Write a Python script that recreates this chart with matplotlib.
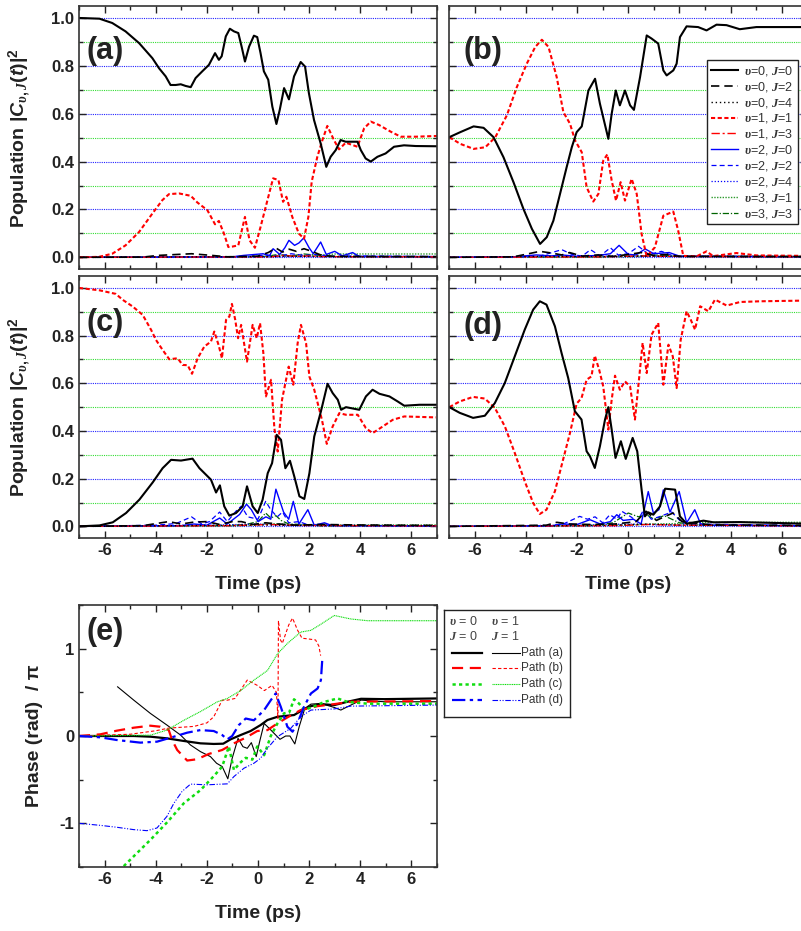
import matplotlib
matplotlib.use('Agg')
import numpy as np
import matplotlib.pyplot as plt
from matplotlib.lines import Line2D
from matplotlib.ticker import MultipleLocator, FormatStrFormatter

plt.rcParams.update({
    'font.family': ['Liberation Sans', 'DejaVu Sans'],
    'font.weight': 'bold',
    'axes.labelweight': 'bold',
    'mathtext.fontset': 'custom',
    'mathtext.rm': 'Liberation Sans:bold',
    'mathtext.it': 'Liberation Serif:italic',
    'mathtext.bf': 'Liberation Sans:italic:bold',
    'axes.unicode_minus': False,
})

# ---------------- data: panel (a) ----------------
TA_00 = [-7, -6.2, -5.7, -5.18, -4.65, -4.13, -3.87, -3.61, -3.42, -3.22, -3.02, -2.83, -2.63, -2.44, -2.18,
         -1.92, -1.68, -1.53, -1.42, -1.26, -1.10, -0.94, -0.77, -0.64, -0.51, -0.35, -0.16, -0.03, 0.10, 0.23,
         0.40, 0.56, 0.72, 0.85, 1.02, 1.21, 1.41, 1.67, 1.84, 1.99, 2.19, 2.45, 2.67, 2.84, 3.04, 3.23, 3.43,
         3.89, 4.02, 4.21, 4.41, 4.67, 4.99, 5.32, 5.71, 6.17, 7.0]
A_00 = [1.0, 0.997, 0.979, 0.944, 0.895, 0.832, 0.79, 0.756, 0.72, 0.72, 0.723, 0.716, 0.711, 0.749, 0.777,
        0.804, 0.853, 0.825, 0.84, 0.923, 0.955, 0.944, 0.937, 0.88, 0.818, 0.88, 0.926, 0.92, 0.853, 0.777,
        0.742, 0.63, 0.557, 0.616, 0.707, 0.66, 0.756, 0.816, 0.797, 0.686, 0.574, 0.476, 0.378, 0.42, 0.448,
        0.49, 0.483, 0.483, 0.448, 0.413, 0.40, 0.42, 0.434, 0.462, 0.468, 0.465, 0.464]
TA_11 = [-7, -6.22, -5.7, -5.18, -4.65, -4.13, -3.74, -3.48, -3.09, -2.63, -2.37, -1.98, -1.68, -1.53, -1.33,
         -1.16, -1.00, -0.77, -0.51, -0.33, -0.12, 0.10, 0.37, 0.59, 0.80, 0.98, 1.11, 1.34, 1.60, 1.80, 1.97,
         2.10, 2.32, 2.52, 2.71, 2.97, 3.17, 3.43, 3.89, 4.15, 4.41, 4.73, 5.19, 5.58, 6.17, 7.0]
A_11 = [0.0, 0.002, 0.015, 0.05, 0.106, 0.183, 0.239, 0.264, 0.267, 0.257, 0.229, 0.197, 0.138, 0.152, 0.099,
        0.043, 0.045, 0.05, 0.169, 0.071, 0.04, 0.127, 0.239, 0.33, 0.323, 0.232, 0.253, 0.169, 0.099, 0.078,
        0.169, 0.316, 0.42, 0.49, 0.549, 0.49, 0.451, 0.479, 0.462, 0.539, 0.567, 0.553, 0.525, 0.504, 0.504, 0.507]
TA_02 = [-7, -4.5, -3.9, -2.6, -1.8, -1.2, 0.0, 0.4, 0.7, 0.96, 1.22, 1.5, 1.8, 2.1, 2.5, 3.0, 7.0]
A_02 = [0, 0.001, 0.008, 0.015, 0.008, 0.002, 0.005, 0.02, 0.039, 0.022, 0.034, 0.025, 0.036, 0.025, 0.008, 0.004, 0.003]
TA_04 = [-7, 0.5, 1.5, 2.5, 7]
A_04 = [0, 0.003, 0.005, 0.003, 0.002]
TA_13 = [-7, 0.5, 1.0, 1.5, 2.0, 2.5, 7]
A_13 = [0, 0.002, 0.008, 0.004, 0.006, 0.003, 0.002]
TA_20 = [-7, -1.0, -0.57, 0.2, 0.45, 0.59, 0.85, 1.05, 1.21, 1.43, 1.6, 1.79, 2.0, 2.16, 2.45, 2.67, 3.0, 3.3, 3.7, 3.95, 7.0]
A_20 = [0, 0.002, 0.008, 0.015, 0.006, 0.036, 0.012, 0.04, 0.071, 0.05, 0.06, 0.081, 0.04, 0.015, 0.064, 0.012,
        0.025, 0.006, 0.02, 0.004, 0.003]
TA_22 = [-7, -0.5, 0.3, 0.8, 1.3, 1.8, 2.3, 2.8, 3.5, 7]
A_22 = [0, 0.002, 0.01, 0.005, 0.015, 0.008, 0.012, 0.004, 0.006, 0.003]
TA_24 = [-7, 0.5, 1.5, 2.5, 7]
A_24 = [0, 0.002, 0.004, 0.003, 0.002]
TA_31 = [-7, 0.0, 0.8, 1.5, 2.2, 2.8, 3.0, 7.0]
A_31 = [0, 0.002, 0.008, 0.004, 0.01, 0.012, 0.014, 0.014]
TA_33 = [-7, 0.3, 0.8, 1.3, 1.8, 2.4, 3.0, 7]
A_33 = [0, 0.004, 0.012, 0.006, 0.014, 0.008, 0.003, 0.002]

# ---------------- data: panel (b) ----------------
TB_00 = [-7, -6.57, -6.05, -5.66, -5.27, -4.88, -4.49, -4.10, -3.77, -3.45, -3.19, -2.93, -2.67, -2.41, -2.21,
         -2.02, -1.82, -1.56, -1.30, -1.11, -0.78, -0.65, -0.49, -0.33, -0.13, 0.07, 0.22, 0.46, 0.72, 0.91,
         1.17, 1.37, 1.50, 1.76, 1.89, 2.02, 2.28, 2.73, 3.06, 3.45, 3.84, 4.36, 5.01, 7.0]
B_00 = [0.502, 0.523, 0.547, 0.541, 0.502, 0.418, 0.314, 0.202, 0.119, 0.056, 0.084, 0.153, 0.265, 0.377, 0.46,
        0.523, 0.547, 0.697, 0.746, 0.642, 0.495, 0.60, 0.697, 0.635, 0.697, 0.635, 0.616, 0.753, 0.927, 0.914,
        0.893, 0.781, 0.76, 0.781, 0.809, 0.92, 0.965, 0.962, 0.948, 0.972, 0.97, 0.953, 0.962, 0.962]
TB_11 = [-7, -6.57, -6.05, -5.59, -5.20, -4.75, -4.36, -3.97, -3.64, -3.38, -3.12, -2.80, -2.54, -2.28, -2.08,
         -1.82, -1.63, -1.37, -1.17, -0.98, -0.82, -0.65, -0.48, -0.30, -0.13, 0.13, 0.33, 0.52, 0.72, 1.04,
         1.37, 1.76, 1.95, 2.15, 2.67, 3.06, 3.32, 4.23, 5.01, 7.0]
B_11 = [0.502, 0.474, 0.453, 0.46, 0.502, 0.593, 0.711, 0.809, 0.879, 0.909, 0.879, 0.753, 0.607, 0.558, 0.488,
        0.439, 0.293, 0.233, 0.265, 0.404, 0.43, 0.321, 0.237, 0.314, 0.237, 0.328, 0.265, 0.098, 0.003, 0.042,
        0.174, 0.191, 0.112, 0.006, 0.004, 0.025, 0.005, 0.018, 0.008, 0.006]
TB_02 = [-7, -4.5, -3.9, -3.46, -3.0, -2.6, -2.3, -1.8, -1.2, -0.6, 0.0, 0.5, 1.0, 1.5, 2.0, 7.0]
B_02 = [0, 0.002, 0.015, 0.025, 0.018, 0.01, 0.02, 0.005, 0.01, 0.004, 0.012, 0.02, 0.008, 0.012, 0.004, 0.003]
TB_04 = [-7, -3.5, -1.0, 0.5, 7]
B_04 = [0, 0.004, 0.003, 0.005, 0.002]
TB_13 = [-7, -1.0, 0.5, 1.5, 7]
B_13 = [0, 0.002, 0.006, 0.004, 0.002]
TB_20 = [-7, -4.5, -3.6, -3.0, -2.6, -2.0, -1.2, -0.7, -0.36, 0.0, 0.3, 0.66, 1.0, 1.6, 2.0, 7.0]
B_20 = [0, 0.002, 0.01, 0.006, 0.01, 0.004, 0.008, 0.015, 0.05, 0.012, 0.01, 0.035, 0.015, 0.02, 0.005, 0.003]
TB_22 = [-7, -3.5, -2.6, -2.2, -1.8, -1.48, -1.1, -0.7, -0.4, 0.0, 0.4, 0.8, 1.3, 1.8, 7]
B_22 = [0, 0.004, 0.032, 0.012, 0.005, 0.032, 0.006, 0.04, 0.01, 0.015, 0.046, 0.012, 0.025, 0.004, 0.003]
TB_24 = [-7, -2.5, -0.5, 1.0, 7]
B_24 = [0, 0.004, 0.006, 0.004, 0.002]
TB_31 = [-7, 0, 1, 2, 3, 7]
B_31 = [0, 0.002, 0.006, 0.004, 0.005, 0.005]
TB_33 = [-7, -1.0, -0.3, 0.1, 0.6, 1.2, 2.0, 7]
B_33 = [0, 0.002, 0.006, 0.012, 0.005, 0.01, 0.003, 0.002]

# ---------------- data: panel (c) ----------------
TC_00 = [-7, -6.2, -5.68, -5.16, -4.64, -4.12, -3.73, -3.40, -3.01, -2.56, -2.29, -1.84, -1.64, -1.49, -1.32,
         -1.12, -0.86, -0.60, -0.43, -0.21, -0.01, 0.18, 0.38, 0.55, 0.73, 0.90, 1.07, 1.25, 1.42, 1.62, 1.81,
         2.01, 2.20, 2.46, 2.72, 2.92, 3.12, 3.25, 3.44, 3.96, 4.22, 4.48, 4.75, 5.14, 5.46, 5.72, 6.31, 6.96]
C_00 = [0.0, 0.004, 0.017, 0.056, 0.112, 0.184, 0.244, 0.279, 0.276, 0.284, 0.244, 0.196, 0.142, 0.172, 0.084,
        0.045, 0.056, 0.084, 0.168, 0.084, 0.056, 0.112, 0.223, 0.265, 0.384, 0.363, 0.244, 0.275, 0.209, 0.126,
        0.115, 0.223, 0.377, 0.482, 0.598, 0.559, 0.531, 0.489, 0.50, 0.489, 0.545, 0.573, 0.556, 0.545, 0.524,
        0.506, 0.51, 0.51]
TC_11 = [-7, -6.2, -5.56, -5.29, -4.90, -4.51, -4.18, -3.99, -3.73, -3.47, -3.14, -2.95, -2.75, -2.58, -2.36,
         -2.10, -1.84, -1.71, -1.54, -1.41, -1.25, -1.12, -1.02, -0.89, -0.78, -0.66, -0.43, -0.21, -0.05, 0.08,
         0.21, 0.31, 0.51, 0.64, 0.77, 0.94, 1.20, 1.38, 1.55, 1.68, 1.88, 2.01, 2.20, 2.50, 2.69, 2.92, 3.18,
         3.44, 3.90, 4.22, 4.48, 4.88, 5.27, 5.72, 6.96]
C_11 = [1.0, 0.99, 0.975, 0.95, 0.922, 0.887, 0.824, 0.782, 0.74, 0.701, 0.705, 0.677, 0.676, 0.64, 0.705,
        0.754, 0.775, 0.817, 0.76, 0.705, 0.866, 0.88, 0.933, 0.866, 0.789, 0.845, 0.691, 0.845, 0.789, 0.852,
        0.726, 0.545, 0.615, 0.412, 0.314, 0.531, 0.67, 0.594, 0.768, 0.845, 0.768, 0.628, 0.573, 0.447, 0.346,
        0.419, 0.475, 0.468, 0.468, 0.412, 0.391, 0.419, 0.447, 0.461, 0.457]
TC_02 = [-7, -4.5, -3.5, -3.0, -2.5, -2.0, -1.5, -1.0, -0.65, -0.2, 0.3, 0.8, 1.5, 2.5, 3.8, 7]
C_02 = [0, 0.003, 0.02, 0.01, 0.018, 0.02, 0.008, 0.02, 0.02, 0.008, 0.015, 0.01, 0.005, 0.008, 0.006, 0.004]
TC_04 = [-7, -2.0, 0.0, 1.5, 7]
C_04 = [0, 0.004, 0.006, 0.004, 0.002]
TC_13 = [-7, -1.0, 0.5, 1.5, 7]
C_13 = [0, 0.003, 0.008, 0.004, 0.002]
TC_20 = [-7, -3.0, -2.5, -2.0, -1.5, -1.2, -0.72, -0.45, -0.26, 0.0, 0.31, 0.5, 0.70, 1.0, 1.2, 1.38, 1.6, 1.95,
         2.2, 2.6, 2.9, 7]
C_20 = [0, 0.003, 0.01, 0.005, 0.035, 0.01, 0.05, 0.093, 0.07, 0.02, 0.04, 0.03, 0.156, 0.06, 0.03, 0.105, 0.01,
        0.07, 0.005, 0.015, 0.003, 0.002]
TC_22 = [-7, -4.0, -3.2, -2.6, -2.2, -1.9, -1.5, -1.2, -0.85, -0.65, -0.4, 0.0, 0.3, 0.5, 0.75, 0.96, 1.2, 1.6, 2.0, 7]
C_22 = [0, 0.005, 0.012, 0.04, 0.01, 0.02, 0.06, 0.02, 0.065, 0.085, 0.04, 0.03, 0.105, 0.07, 0.04, 0.06, 0.015,
        0.02, 0.005, 0.002]
TC_24 = [-7, -1.5, 0.0, 1.0, 7]
C_24 = [0, 0.006, 0.01, 0.005, 0.002]
TC_31 = [-7, -0.5, 0.5, 1.5, 2.5, 3.0, 7]
C_31 = [0, 0.003, 0.012, 0.006, 0.008, 0.006, 0.006]
TC_33 = [-7, -1.0, -0.4, 0.0, 0.3, 0.5, 0.7, 0.9, 1.2, 1.8, 2.5, 7]
C_33 = [0, 0.003, 0.01, 0.02, 0.056, 0.035, 0.045, 0.025, 0.01, 0.008, 0.002, 0.002]

# ---------------- data: panel (d) ----------------
TD_00 = [-7, -6.59, -6.07, -5.61, -5.22, -4.83, -4.44, -4.05, -3.72, -3.46, -3.20, -2.87, -2.61, -2.35, -2.09,
         -1.83, -1.63, -1.50, -1.31, -1.11, -0.91, -0.78, -0.65, -0.50, -0.29, -0.10, 0.17, 0.35, 0.52, 0.65,
         0.78, 0.98, 1.24, 1.44, 1.83, 2.02, 2.28, 2.94, 3.33, 4.37, 7.0]
D_00 = [0.50, 0.476, 0.455, 0.464, 0.517, 0.601, 0.713, 0.825, 0.909, 0.944, 0.93, 0.839, 0.727, 0.622, 0.483,
        0.448, 0.315, 0.294, 0.245, 0.336, 0.448, 0.50, 0.406, 0.287, 0.357, 0.283, 0.371, 0.315, 0.154, 0.042,
        0.059, 0.049, 0.084, 0.158, 0.154, 0.042, 0.011, 0.024, 0.017, 0.018, 0.011]
TD_11 = [-7, -6.59, -6.07, -5.61, -5.22, -4.83, -4.44, -4.05, -3.72, -3.46, -3.20, -2.87, -2.55, -2.28, -2.02,
         -1.83, -1.63, -1.44, -1.31, -1.14, -0.98, -0.78, -0.65, -0.52, -0.33, -0.13, 0.07, 0.26, 0.43, 0.56,
         0.72, 0.91, 1.17, 1.37, 1.57, 1.74, 1.89, 2.05, 2.28, 2.44, 2.61, 2.81, 3.13, 3.39, 3.85, 4.37, 5.16, 7.0]
D_11 = [0.50, 0.524, 0.543, 0.536, 0.497, 0.42, 0.308, 0.189, 0.098, 0.052, 0.07, 0.147, 0.28, 0.392, 0.515,
        0.538, 0.615, 0.629, 0.716, 0.657, 0.587, 0.406, 0.531, 0.632, 0.573, 0.608, 0.587, 0.448, 0.629, 0.769,
        0.643, 0.804, 0.853, 0.594, 0.762, 0.713, 0.58, 0.783, 0.902, 0.867, 0.825, 0.923, 0.902, 0.951, 0.926,
        0.941, 0.944, 0.947]
TD_02 = [-7, -3.2, -2.8, -2.3, -1.5, -0.5, 0.3, 0.7, 1.1, 1.4, 1.75, 2.1, 2.76, 3.3, 7]
D_02 = [0, 0.005, 0.017, 0.01, 0.008, 0.01, 0.02, 0.063, 0.025, 0.04, 0.056, 0.02, 0.012, 0.006, 0.004]
TD_04 = [-7, -1.0, 0.7, 1.8, 7]
D_04 = [0, 0.004, 0.01, 0.006, 0.002]
TD_13 = [-7, -0.5, 0.8, 2.0, 7]
D_13 = [0, 0.003, 0.008, 0.005, 0.002]
TD_20 = [-7, -3.0, -2.6, -2.0, -1.5, -1.1, -0.7, -0.45, -0.2, 0.2, 0.5, 0.78, 0.98, 1.2, 1.37, 1.63, 1.99, 2.28,
         2.6, 2.83, 3.2, 7]
D_20 = [0, 0.002, 0.01, 0.008, 0.028, 0.01, 0.02, 0.049, 0.025, 0.03, 0.01, 0.146, 0.056, 0.07, 0.153, 0.06,
        0.146, 0.015, 0.07, 0.01, 0.005, 0.003]
TD_22 = [-7, -3.0, -2.5, -1.9, -1.6, -1.3, -1.0, -0.72, -0.45, -0.25, 0.1, 0.35, 0.6, 0.9, 1.2, 1.7, 2.1, 2.6, 7]
D_22 = [0, 0.003, 0.012, 0.042, 0.03, 0.04, 0.015, 0.049, 0.03, 0.063, 0.04, 0.02, 0.07, 0.03, 0.04, 0.06, 0.015,
        0.01, 0.003]
TD_24 = [-7, -1.5, 0.0, 1.2, 7]
D_24 = [0, 0.006, 0.01, 0.006, 0.002]
TD_31 = [-7, 0, 1, 2.0, 2.7, 7]
D_31 = [0, 0.005, 0.01, 0.012, 0.017, 0.017]
TD_33 = [-7, -1.5, -0.6, 0.0, 0.4, 0.7, 1.0, 1.4, 2.0, 2.8, 7]
D_33 = [0, 0.003, 0.015, 0.056, 0.04, 0.05, 0.03, 0.045, 0.015, 0.005, 0.003]

# ---------------- data: panel (e) phases / pi ----------------
TE_A0 = [-7, -4.86, -4.2, -3.56, -2.9, -2.25, -1.73, -1.36, -1.07, -0.68, -0.29, 0.10, 0.37, 0.76, 1.41, 1.67,
         2.07, 2.46, 2.98, 3.50, 4.03, 4.94, 7.0]
E_A0 = [0, 0, -0.008, -0.027, -0.057, -0.084, -0.091, -0.088, -0.038, 0.011, 0.057, 0.125, 0.183, 0.22, 0.24,
        0.285, 0.342, 0.365, 0.354, 0.392, 0.426, 0.422, 0.43]
TE_A1 = [-5.49, -4.86, -4.21, -3.56, -3.03, -2.64, -2.25, -1.86, -1.62, -1.40, -1.18, -1.01, -0.78, -0.59, -0.42,
         -0.26, -0.07, 0.08, 0.24, 0.43, 0.63, 0.86, 1.08, 1.25, 1.44, 1.61, 1.83, 2.07, 2.46, 2.98, 3.24, 3.63,
         4.03, 4.94, 7.0]
E_A1 = [0.563, 0.411, 0.259, 0.125, 0.011, -0.103, -0.179, -0.236, -0.312, -0.35, -0.49, -0.255, -0.027, -0.122,
        -0.141, -0.076, -0.236, -0.045, 0.144, 0.09, 0.03, -0.038, 0.0, 0.0, -0.091, 0.106, 0.316, 0.365, 0.373,
        0.327, 0.297, 0.354, 0.411, 0.392, 0.392]
TE_B0 = [-7, -6.17, -5.52, -4.86, -4.21, -3.82, -3.49, -3.36, -3.16, -2.77, -2.38, -1.92, -1.40, -0.94, -0.48,
         -0.03, 0.37, 0.76, 1.15, 1.67, 2.33, 2.98, 3.63, 7.0]
E_B0 = [0, 0.019, 0.061, 0.095, 0.118, 0.106, 0.068, -0.046, -0.16, -0.281, -0.266, -0.205, -0.16, -0.084, -0.019,
        0.057, 0.068, 0.144, 0.213, 0.297, 0.342, 0.365, 0.392, 0.40]
TE_B1 = [-7, -5.0, -4.0, -3.5, -3.0, -2.5, -2.0, -1.73, -1.4, -1.2, -0.9, -0.42, -0.03, 0.25, 0.55, 0.72, 0.78,
         0.80, 0.88, 0.95, 1.2, 1.35, 1.55, 1.72, 2.0, 2.25, 2.38, 2.45]
E_B1 = [0, 0.02, 0.06, 0.09, 0.1, 0.11, 0.15, 0.22, 0.41, 0.41, 0.43, 0.64, 0.58, 0.52, 0.58, 0.5, 0.2, 1.32, 1.1,
        1.06, 1.27, 1.35, 1.21, 1.12, 1.11, 1.1, 1.03, 0.92]
TE_C0 = [-5.25, -4.21, -3.56, -2.9, -2.25, -1.73, -1.40, -1.14, -0.94, -0.71, -0.48, -0.22, -0.03, 0.24, 0.5, 0.76,
         1.02, 1.22, 1.41, 1.61, 1.8, 2.13, 2.59, 3.11, 3.5, 4.29, 7.0]
E_C0 = [-1.49, -1.19, -0.99, -0.77, -0.62, -0.46, -0.35, -0.12, -0.39, -0.31, -0.25, -0.27, -0.12, -0.22, 0.0,
        0.144, 0.26, 0.27, 0.42, 0.37, 0.30, 0.33, 0.39, 0.43, 0.39, 0.37, 0.37]
TE_C1 = [-7, -4.2, -3.56, -2.9, -2.25, -1.6, -1.2, -0.68, -0.16, 0.37, 0.76, 1.15, 1.67, 2.07, 2.46, 2.98, 3.63,
         4.29, 7.0]
E_C1 = [0, 0.01, 0.068, 0.18, 0.28, 0.39, 0.43, 0.52, 0.64, 0.75, 0.94, 1.06, 1.19, 1.21, 1.28, 1.38, 1.34, 1.32, 1.32]
TE_D0 = [-7, -6.17, -5.52, -4.6, -3.95, -3.29, -2.77, -2.25, -1.73, -1.4, -1.2, -1.01, -0.75, -0.48, -0.16, 0.24,
         0.5, 0.69, 0.89, 1.15, 1.35, 1.54, 1.8, 2.07, 2.33, 2.46, 2.52]
E_D0 = [0, -0.015, -0.046, -0.076, -0.065, -0.008, 0.038, 0.068, 0.057, 0.011, -0.038, 0.0, 0.125, 0.2, 0.18,
        0.297, 0.41, 0.487, 0.335, 0.106, 0.049, 0.144, 0.335, 0.487, 0.544, 0.64, 0.905]
TE_D1 = [-7, -6.17, -5.52, -4.86, -4.34, -3.95, -3.56, -3.29, -2.97, -2.64, -1.99, -1.2, -0.94, -0.55, -0.16, 0.1,
         0.37, 0.76, 1.28, 1.67, 2.07, 2.59, 2.98, 3.63, 7.0]
E_D1 = [-1.0, -1.023, -1.045, -1.072, -1.084, -1.053, -0.92, -0.77, -0.635, -0.551, -0.559, -0.548, -0.464,
        -0.369, -0.312, -0.255, -0.141, -0.008, 0.087, 0.22, 0.297, 0.304, 0.31, 0.342, 0.354]

STATES = ['v0J0', 'v0J2', 'v0J4', 'v1J1', 'v1J3', 'v2J0', 'v2J2', 'v2J4', 'v3J1', 'v3J3']
STATE_LABELS = [r'$\upsilon$=0, $J$=0', r'$\upsilon$=0, $J$=2', r'$\upsilon$=0, $J$=4', r'$\upsilon$=1, $J$=1',
                r'$\upsilon$=1, $J$=3', r'$\upsilon$=2, $J$=0', r'$\upsilon$=2, $J$=2', r'$\upsilon$=2, $J$=4',
                r'$\upsilon$=3, $J$=1', r'$\upsilon$=3, $J$=3']
PANELS = {
    'a': {'v0J0': (TA_00, A_00), 'v0J2': (TA_02, A_02), 'v0J4': (TA_04, A_04), 'v1J1': (TA_11, A_11),
          'v1J3': (TA_13, A_13), 'v2J0': (TA_20, A_20), 'v2J2': (TA_22, A_22), 'v2J4': (TA_24, A_24),
          'v3J1': (TA_31, A_31), 'v3J3': (TA_33, A_33)},
    'b': {'v0J0': (TB_00, B_00), 'v0J2': (TB_02, B_02), 'v0J4': (TB_04, B_04), 'v1J1': (TB_11, B_11),
          'v1J3': (TB_13, B_13), 'v2J0': (TB_20, B_20), 'v2J2': (TB_22, B_22), 'v2J4': (TB_24, B_24),
          'v3J1': (TB_31, B_31), 'v3J3': (TB_33, B_33)},
    'c': {'v0J0': (TC_00, C_00), 'v0J2': (TC_02, C_02), 'v0J4': (TC_04, C_04), 'v1J1': (TC_11, C_11),
          'v1J3': (TC_13, C_13), 'v2J0': (TC_20, C_20), 'v2J2': (TC_22, C_22), 'v2J4': (TC_24, C_24),
          'v3J1': (TC_31, C_31), 'v3J3': (TC_33, C_33)},
    'd': {'v0J0': (TD_00, D_00), 'v0J2': (TD_02, D_02), 'v0J4': (TD_04, D_04), 'v1J1': (TD_11, D_11),
          'v1J3': (TD_13, D_13), 'v2J0': (TD_20, D_20), 'v2J2': (TD_22, D_22), 'v2J4': (TD_24, D_24),
          'v3J1': (TD_31, D_31), 'v3J3': (TD_33, D_33)},
}
PHASES = [('a', TE_A0, E_A0, TE_A1, E_A1), ('b', TE_B0, E_B0, TE_B1, E_B1),
          ('c', TE_C0, E_C0, TE_C1, E_C1), ('d', TE_D0, E_D0, TE_D1, E_D1)]

# ---------------- styles ----------------
STYLE = {
    'v0J0': dict(color='black', ls='-', lw=1.5),
    'v0J2': dict(color='black', ls=(0, (5, 3)), lw=1.2),
    'v0J4': dict(color='black', ls=(0, (1, 2)), lw=1.0),
    'v1J1': dict(color='red', ls=(0, (2, 1.2)), lw=1.5),
    'v1J3': dict(color='red', ls=(0, (6, 2, 1.5, 2)), lw=1.0),
    'v2J0': dict(color='blue', ls='-', lw=1.0),
    'v2J2': dict(color='blue', ls=(0, (4, 2.5)), lw=0.9),
    'v2J4': dict(color='blue', ls=(0, (1, 1.5)), lw=0.9),
    'v3J1': dict(color='#2e9a2e', ls=(0, (1, 1)), lw=1.0),
    'v3J3': dict(color='#006400', ls=(0, (5, 1.5, 1, 1.5)), lw=0.9),
}
PATH_STYLE = {
    'a': (dict(color='black', ls='-', lw=1.6), dict(color='black', ls='-', lw=0.8)),
    'b': (dict(color='red', ls=(0, (5, 3)), lw=1.6), dict(color='red', ls=(0, (3, 2)), lw=0.8)),
    'c': (dict(color='#10dd10', ls=(0, (1.3, 1.3)), lw=1.8), dict(color='#10dd10', ls=(0, (1, 0.6)), lw=0.8)),
    'd': (dict(color='blue', ls=(0, (6, 2, 1.5, 2)), lw=1.6),
          dict(color='blue', ls=(0, (5, 1.5, 1, 1.5, 1, 1.5)), lw=0.8)),
}
TXT = '#222222'

fig = plt.figure(figsize=(8.01, 9.31), dpi=100)


def px_axes(l, t, r, b):
    return fig.add_axes([l / 801, 1 - b / 931, (r - l) / 801, (b - t) / 931])


def style_axes(ax, ylim, ymaj, ymin, yfmt, xlab, ylab):
    ax.set_xlim(-7, 7)
    ax.set_ylim(*ylim)
    ax.xaxis.set_major_locator(MultipleLocator(2))
    ax.xaxis.set_minor_locator(MultipleLocator(1))
    ax.yaxis.set_major_locator(MultipleLocator(ymaj))
    ax.yaxis.set_minor_locator(MultipleLocator(ymin))
    ax.xaxis.set_major_formatter(FormatStrFormatter('%d'))
    ax.yaxis.set_major_formatter(FormatStrFormatter(yfmt))
    ax.tick_params(which='both', direction='in', top=True, right=True, labelsize=12,
                   labelcolor=TXT, color='#222222', width=1.0)
    ax.tick_params(which='major', length=5)
    ax.tick_params(which='minor', length=3)
    ax.tick_params(labelbottom=xlab, labelleft=ylab)
    for s in ax.spines.values():
        s.set_linewidth(1.2)
        s.set_color('#333333')


pop_axes = {
    'a': px_axes(79, 6, 437, 269.3),
    'b': px_axes(449.3, 6, 807.3, 269.3),
    'c': px_axes(79, 276, 437, 538.3),
    'd': px_axes(449.3, 276, 807.3, 538.3),
}
label_pos = {'a': (0.02, 0.83), 'b': (0.04, 0.83), 'c': (0.02, 0.82), 'd': (0.04, 0.81)}

for key, ax in pop_axes.items():
    style_axes(ax, (-0.05, 1.05), 0.2, 0.1, '%.1f', key in 'cd', key in 'ac')
    for k, g in enumerate(np.arange(0, 11) / 10):
        ax.axhline(g, color='#2222ff' if k % 2 == 0 else '#33dd33', ls=(0, (1, 1)), lw=0.8, zorder=0.5)
    for st in reversed(STATES):
        t, y = PANELS[key][st]
        s = STYLE[st]
        ax.plot(t, y, color=s['color'], linestyle=s['ls'], lw=s['lw'], zorder=2)
    ax.text(*label_pos[key], '(%s)' % key, transform=ax.transAxes, fontsize=22, fontweight='bold',
            va='center', ha='left', color=TXT)
    if key in 'ac':
        ax.set_ylabel(r'Population $|\mathbf{C}_{\upsilon,J}(\mathbf{t})|^2$', fontsize=14, color=TXT,
                      fontweight='bold')
        ax.yaxis.set_label_coords(-0.128, 0.5)
    if key in 'cd':
        ax.set_xlabel('Time (ps)', fontsize=14, color=TXT, fontweight='bold')
        ax.xaxis.set_label_coords(0.5, -0.145)

# legend for populations in (b)
handles = [Line2D([], [], color=STYLE[s]['color'], linestyle=STYLE[s]['ls'], lw=STYLE[s]['lw']) for s in STATES]
leg = pop_axes['b'].legend(handles, STATE_LABELS, loc='upper left',
                           bbox_to_anchor=(707 / 801, 1 - 60 / 931), bbox_transform=fig.transFigure,
                           prop={'family': 'Liberation Sans', 'weight': 'normal', 'size': 9},
                           frameon=True, fancybox=False, edgecolor='#222222', framealpha=1,
                           handlelength=2.2, handletextpad=0.5, labelspacing=0.15, borderpad=0.3,
                           borderaxespad=0)
leg.get_frame().set_linewidth(1.0)
for tx in leg.get_texts():
    tx.set_color('#333333')

# ---------------- panel (e) ----------------
axE = px_axes(79, 605, 437, 867)
style_axes(axE, (-1.5, 1.5), 1, 0.5, '%d', True, True)
for key, t0, y0, t1, y1 in PHASES:
    s0, s1 = PATH_STYLE[key]
    axE.plot(t0, y0, color=s0['color'], linestyle=s0['ls'], lw=s0['lw'])
    axE.plot(t1, y1, color=s1['color'], linestyle=s1['ls'], lw=s1['lw'])
axE.text(0.02, 0.897, '(e)', transform=axE.transAxes, fontsize=22, fontweight='bold',
         va='center', ha='left', color=TXT)
axE.set_ylabel('Phase (rad)  / \u03c0', fontsize=14, color=TXT, fontweight='bold')
axE.yaxis.set_label_coords(-0.10, 0.5)
axE.set_xlabel('Time (ps)', fontsize=14, color=TXT, fontweight='bold')
axE.xaxis.set_label_coords(0.5, -0.145)

# custom two-column legend for (e)
axL = px_axes(444, 610, 570, 717)
axL.set_xlim(0, 1)
axL.set_ylim(0, 1)
axL.set_xticks([])
axL.set_yticks([])
for s in axL.spines.values():
    s.set_linewidth(1.0)
    s.set_color('#222222')
hdr = dict(fontsize=9, fontweight='normal', color='#444444', va='center', ha='left',
           family=['Liberation Sans', 'DejaVu Sans'])
axL.text(0.04, 0.895, r'$\upsilon$ = 0', **hdr)
axL.text(0.37, 0.895, r'$\upsilon$ = 1', **hdr)
axL.text(0.04, 0.755, r'$J$ = 0', **hdr)
axL.text(0.37, 0.755, r'$J$ = 1', **hdr)
rows_y = [0.598, 0.458, 0.308, 0.159]
for (key, *_), yy in zip(PHASES, rows_y):
    s0, s1 = PATH_STYLE[key]
    axL.plot([0.063, 0.30], [yy, yy], color=s0['color'], linestyle=s0['ls'], lw=s0['lw'])
    axL.plot([0.38, 0.60], [yy, yy], color=s1['color'], linestyle=s1['ls'], lw=s1['lw'])
    axL.text(0.61, yy, 'Path (%s)' % key, fontsize=8.5, fontweight='normal', color='#333333',
             va='center', ha='left')

fig.savefig('out.png', dpi=100)
